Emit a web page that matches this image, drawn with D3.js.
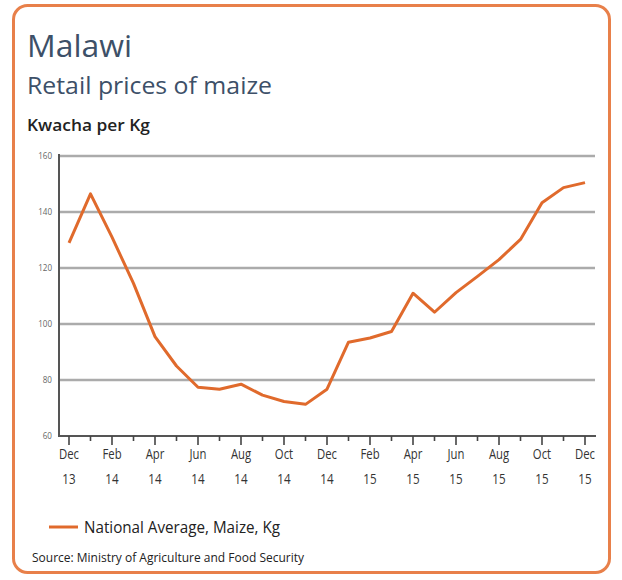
<!DOCTYPE html>
<html><head><meta charset="utf-8">
<script src="https://cdn.jsdelivr.net/npm/d3@7"></script>
<style>body{margin:0;background:#fff}svg{display:block}</style>
</head><body>
<svg id="c" width="622" height="580"></svg>
<script>
const months = ["Dec 13","Jan 14","Feb 14","Mar 14","Apr 14","May 14","Jun 14","Jul 14","Aug 14","Sep 14","Oct 14","Nov 14","Dec 14","Jan 15","Feb 15","Mar 15","Apr 15","May 15","Jun 15","Jul 15","Aug 15","Sep 15","Oct 15","Nov 15","Dec 15"];
const prices = [129,146.5,131,114.5,95.5,85,77.4,76.7,78.5,74.6,72.3,71.3,76.7,93.5,95,97.3,111,104.2,111.2,117,123,130.2,143.3,148.7,150.5];
const yTicks = [60,80,100,120,140,160];
const xLabelMonths = ["Dec","Feb","Apr","Jun","Aug","Oct","Dec","Feb","Apr","Jun","Aug","Oct","Dec"];
const xLabelYears = ["13","14","14","14","14","14","14","15","15","15","15","15","15"];

const svg = d3.select("#c");
const font = "'Open Sans', sans-serif";
function condense(sel, f){
  sel.each(function(){
    const L = this.getComputedTextLength();
    d3.select(this).attr("textLength", L*f).attr("lengthAdjust","spacingAndGlyphs");
  });
}
// frame
svg.append("rect").attr("x",13.5).attr("y",5.5).attr("width",596).attr("height",567).attr("rx",14)
  .attr("fill","#fff").attr("stroke","#e8804a").attr("stroke-width",3);

svg.append("text").attr("x",27).attr("y",57).text("Malawi")
  .attr("font-family",font).attr("font-size",31).attr("fill","#3d5068")
  .attr("textLength",105).attr("lengthAdjust","spacingAndGlyphs");
svg.append("text").attr("x",27).attr("y",94).text("Retail prices of maize")
  .attr("font-family",font).attr("font-size",23).attr("fill","#3d5068")
  .attr("textLength",245).attr("lengthAdjust","spacingAndGlyphs");
svg.append("text").attr("x",27).attr("y",131).text("Kwacha per Kg")
  .attr("font-family",font).attr("font-size",15.5).attr("font-weight",600).attr("fill","#222")
  .attr("textLength",123).attr("lengthAdjust","spacingAndGlyphs");

const x = d3.scaleLinear().domain([0, months.length-1]).range([69,585]);
const y = d3.scaleLinear().domain([60,160]).range([436,156]);

// gridlines
svg.append("g").selectAll("line").data(yTicks.filter(d=>d>60)).join("line")
  .attr("x1",59).attr("x2",595).attr("y1",d=>y(d)).attr("y2",d=>y(d))
  .attr("stroke","#ababab").attr("stroke-width",2.5);

// y labels
svg.append("g").selectAll("text").data(yTicks).join("text")
  .attr("x",52).attr("y",d=>y(d)+3).attr("text-anchor","end")
  .attr("font-family",font).attr("font-size",9.5).attr("fill","#666").text(d=>d)
  .call(condense,0.85);

// axes lines
svg.append("line").attr("x1",59).attr("x2",59).attr("y1",154).attr("y2",437).attr("stroke","#555").attr("stroke-width",2);
svg.append("line").attr("x1",58).attr("x2",596).attr("y1",436).attr("y2",436).attr("stroke","#555").attr("stroke-width",2);

// ticks
svg.append("g").selectAll("line").data(d3.range(months.length)).join("line")
  .attr("x1",d=>x(d)).attr("x2",d=>x(d)).attr("y1",436).attr("y2",d=>d%2===0?445:441)
  .attr("stroke","#444").attr("stroke-width",1.6);

// x labels
svg.append("g").selectAll("text").data(xLabelMonths).join("text")
  .attr("x",(d,i)=>x(i*2)).attr("y",459).attr("text-anchor","middle")
  .attr("font-family",font).attr("font-size",14.5).attr("fill","#333").text(d=>d)
  .call(condense,0.78);
svg.append("g").selectAll("text").data(xLabelYears).join("text")
  .attr("x",(d,i)=>x(i*2)).attr("y",484).attr("text-anchor","middle")
  .attr("font-family",font).attr("font-size",14.5).attr("fill","#333").text(d=>d)
  .call(condense,0.8);

// line
const line = d3.line().x((d,i)=>x(i)).y(d=>y(d));
svg.append("path").datum(prices).attr("d",line).attr("fill","none")
  .attr("stroke","#e06a2c").attr("stroke-width",3).attr("stroke-linejoin","round");

// legend
svg.append("line").attr("x1",49).attr("x2",78).attr("y1",527).attr("y2",527).attr("stroke","#e06a2c").attr("stroke-width",3);
svg.append("text").attr("x",84).attr("y",533).text("National Average, Maize, Kg")
  .attr("font-family",font).attr("font-size",17).attr("fill","#222")
  .attr("textLength",196).attr("lengthAdjust","spacingAndGlyphs");
svg.append("text").attr("x",32).attr("y",562).text("Source: Ministry of Agriculture and Food Security")
  .attr("font-family",font).attr("font-size",12.5).attr("fill","#222")
  .attr("textLength",272).attr("lengthAdjust","spacingAndGlyphs");
</script>
</body></html>
